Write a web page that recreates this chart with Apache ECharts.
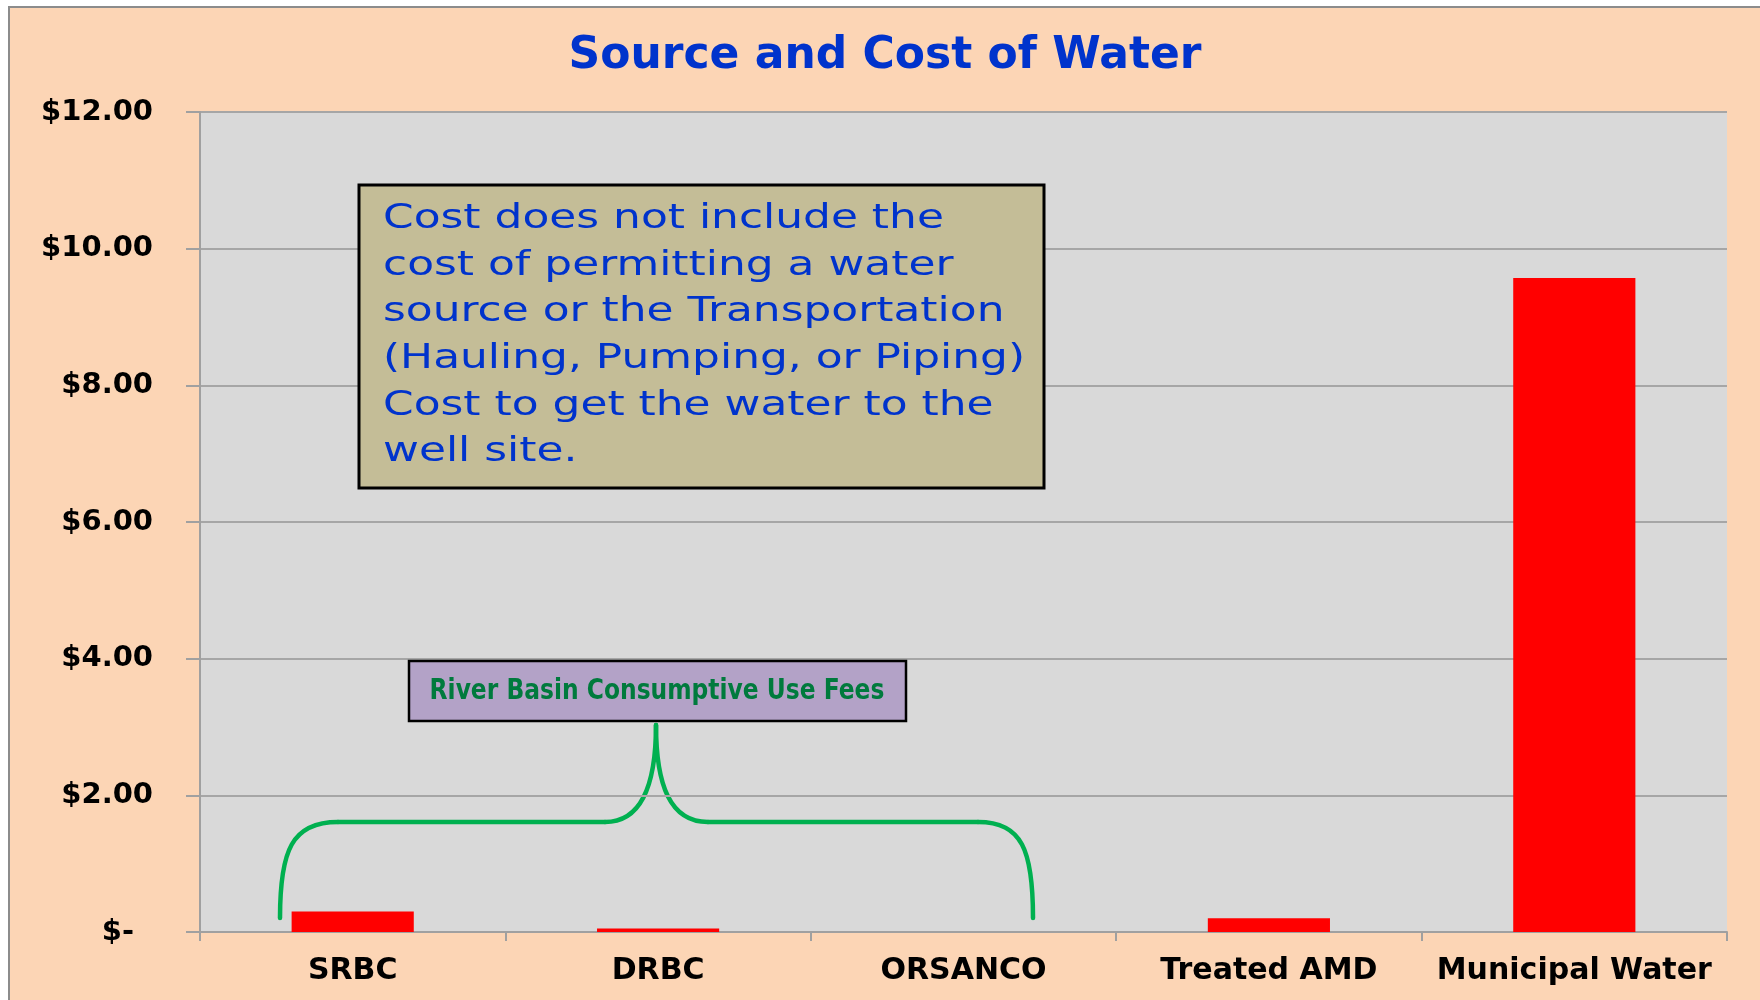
<!DOCTYPE html>
<html><head><meta charset="utf-8">
<script src="https://cdn.jsdelivr.net/npm/echarts@6/dist/echarts.min.js"></script>
<style>html,body{margin:0;padding:0;background:#fff}#c{width:1760px;height:1000px}</style>
</head><body><div id="c"></div>
<script>
const titleText = 'Source and Cost of Water';
const categories = ['SRBC', 'DRBC', 'ORSANCO', 'Treated AMD', 'Municipal Water'];
const costs = [0.30, 0.05, 0, 0.20, 9.57];
const yTickLabels = ['$-', '$2.00', '$4.00', '$6.00', '$8.00', '$10.00', '$12.00'];
const noteLines = [
  'Cost does not include the',
  'cost of permitting a water',
  'source or the Transportation',
  '(Hauling, Pumping, or Piping)',
  'Cost to get the water to the',
  'well site.'
];
const feeLabel = 'River Basin Consumptive Use Fees';

const chart = echarts.init(document.getElementById('c'), null, {renderer: 'canvas'});
const green = '#00B050';
const braceStyle = {stroke: green, lineWidth: 4.5, fill: null, lineCap: 'round'};

chart.setOption({
  backgroundColor: '#FFFFFF',
  animation: false,
  title: {
    text: titleText,
    left: 885, top: 35, textAlign: 'center', padding: 0,
    textStyle: {fontFamily: 'DejaVu Sans', fontWeight: 'bold', fontSize: 44, color: '#0033CC', lineHeight: 44}
  },
  grid: {
    left: 200, right: 33, top: 112, bottom: 68,
    show: true, backgroundColor: '#D9D9D9', borderWidth: 0,
    outerBoundsMode: 'none'
  },
  xAxis: {
    type: 'category',
    data: categories,
    boundaryGap: true,
    axisLine: {lineStyle: {color: '#A0A0A0', width: 2}},
    axisTick: {show: true, length: 9, lineStyle: {color: '#A0A0A0', width: 2}},
    axisLabel: {margin: 24, fontFamily: 'DejaVu Sans', fontWeight: 'bold', fontSize: 30, color: '#000', interval: 0}
  },
  yAxis: {
    type: 'value',
    min: 0, max: 12, interval: 2,
    axisLine: {show: true, lineStyle: {color: '#A0A0A0', width: 2}},
    axisTick: {show: true, length: 14, lineStyle: {color: '#A0A0A0', width: 2}},
    splitLine: {show: true, lineStyle: {color: '#A6A6A6', width: 2}},
    axisLabel: {
      margin: 47,
      fontFamily: 'DejaVu Sans', fontWeight: 'bold', fontSize: 29, color: '#000',
      formatter: function (v) {
        const s = yTickLabels[Math.round(v / 2)];
        return v === 0 ? '{dash|' + s + '}' : s;
      },
      rich: {dash: {fontFamily: 'DejaVu Sans', fontWeight: 'bold', fontSize: 29, color: '#000', padding: [0, 19, 0, 0]}}
    }
  },
  series: [{
    type: 'bar',
    data: costs,
    barWidth: '40%',
    itemStyle: {color: '#FF0000'},
    z: 2
  }],
  graphic: {
    elements: [
      {type: 'rect', z: -100, silent: true,
        shape: {x: 9, y: 7, width: 1770, height: 1010},
        style: {fill: '#FCD5B5', stroke: '#8C8C8C', lineWidth: 2}},
      {type: 'rect', z: 100,
        shape: {x: 359, y: 185, width: 685, height: 303},
        style: {fill: '#C4BD97', stroke: '#000', lineWidth: 3}},
      {type: 'text', z: 101, x: 383, y: 196, scaleX: 1.33,
        style: {text: noteLines.join('\n'), fontFamily: 'DejaVu Sans', fontSize: 33, lineHeight: 46.7,
          fill: '#0033CC', textAlign: 'left', textVerticalAlign: 'top'}},
      {type: 'rect', z: 100,
        shape: {x: 409, y: 661, width: 497, height: 60},
        style: {fill: '#B3A2C7', stroke: '#000', lineWidth: 2.5}},
      {type: 'text', z: 101, x: 657, y: 692, scaleY: 1.2,
        style: {text: feeLabel, fontFamily: 'DejaVu Sans', fontWeight: 'bold', fontSize: 23.4,
          fill: '#007A3D', textAlign: 'center', textVerticalAlign: 'middle'}},
      {type: 'group', z: 50, children: [
        {type: 'bezierCurve', shape: {x1: 280, y1: 918, cpx1: 280, cpy1: 850, cpx2: 292, cpy2: 822, x2: 338, y2: 822}, style: braceStyle},
        {type: 'line', shape: {x1: 338, y1: 822, x2: 605, y2: 822}, style: braceStyle},
        {type: 'bezierCurve', shape: {x1: 605, y1: 822, cpx1: 642, cpy1: 822, cpx2: 656, cpy2: 785, x2: 656, y2: 725}, style: braceStyle},
        {type: 'bezierCurve', shape: {x1: 656, y1: 725, cpx1: 656, cpy1: 785, cpx2: 670, cpy2: 822, x2: 708, y2: 822}, style: braceStyle},
        {type: 'line', shape: {x1: 708, y1: 822, x2: 978, y2: 822}, style: braceStyle},
        {type: 'bezierCurve', shape: {x1: 978, y1: 822, cpx1: 1022, cpy1: 822, cpx2: 1033, cpy2: 850, x2: 1033, y2: 918}, style: braceStyle}
      ]}
    ]
  }
});
</script>
</body></html>
